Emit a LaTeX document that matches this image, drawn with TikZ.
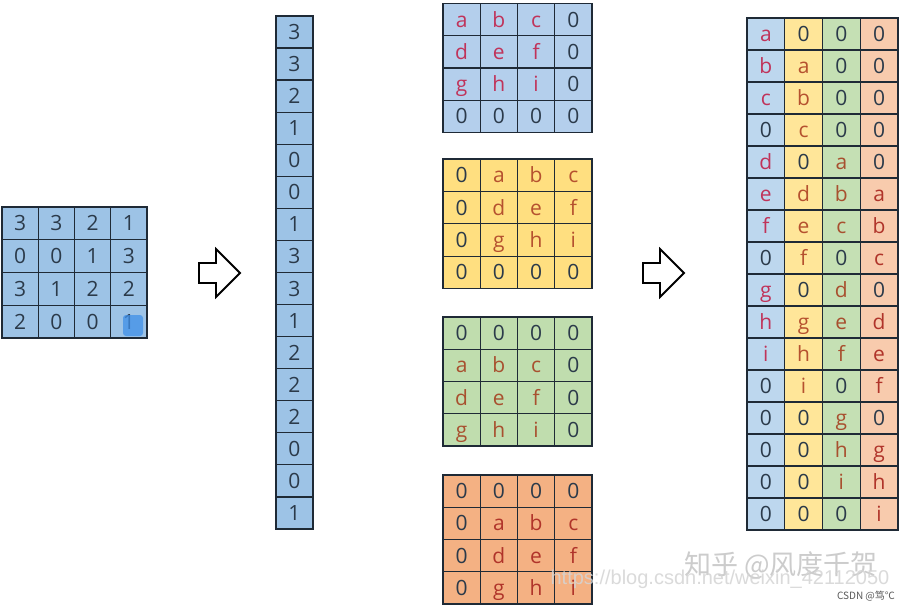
\documentclass[tikz,border=0pt]{standalone}
\usepackage{fontspec}
\setmainfont{Open Sans}
\newfontfamily\cjkfont{Noto Sans CJK SC}
\newfontfamily\urlfont{Liberation Sans}
\definecolor{gridc}{HTML}{1F2A36}
\definecolor{numc}{HTML}{2B3A4A}
\definecolor{leftblue}{HTML}{9DC3E6}
\definecolor{mblue}{HTML}{B4CFEC}
\definecolor{myellow}{HTML}{FFDF80}
\definecolor{mgreen}{HTML}{C0DDAE}
\definecolor{morange}{HTML}{F4B183}
\definecolor{rblue}{HTML}{BDD7EE}
\definecolor{ryellow}{HTML}{FFE699}
\definecolor{rgreen}{HTML}{C5E0B4}
\definecolor{rorange}{HTML}{F8CBAD}
\definecolor{lblue}{HTML}{C0335A}
\definecolor{lyellow}{HTML}{B5512F}
\definecolor{lgreen}{HTML}{A8502F}
\definecolor{lorange}{HTML}{B0342A}
\definecolor{hilite}{HTML}{3F8FE8}
\tikzset{
  cell/.style={draw=gridc, line width=1.3pt, inner sep=0pt, text height=15pt, text depth=0pt,
    font=\fontsize{21}{21}\selectfont, anchor=center},
  blockarrow/.style={draw=black, line width=1.8pt, fill=white, line join=miter},
  wmark/.style={inner sep=0pt, anchor=center},
}
\newcommand\mygrid[9]{%
  \foreach \t [count=\i from 0] in {#9} {%
    \pgfmathtruncatemacro\mycol{mod(\i,#6)}%
    \pgfmathtruncatemacro\myrow{floor(\i/#6)}%
    \node[cell, fill=#7, minimum width=#4pt, minimum height=#5pt] (#1-\myrow-\mycol)
      at ({#2+(\mycol+0.5)*#4},{#3+(\myrow+0.5)*#5}) {\ifcat\t a\color{#8}\else\color{numc}\fi\t};
  }}
\begin{document}
\begin{tikzpicture}[x=1pt,y=-1pt]
\useasboundingbox (0,0) rectangle (910,610);
\fill[white] (0,0) rectangle (910,610);
% input matrix
\mygrid{L}{2}{207}{36.25}{32.75}{4}{leftblue}{lblue}{3,3,2,1,0,0,1,3,3,1,2,2,2,0,0,1}
\fill[hilite, fill opacity=0.75, rounded corners=3pt] (123,315) rectangle (143,336);
% column vector
\mygrid{V}{276}{16}{37}{32.06}{1}{leftblue}{lblue}{3,3,2,1,0,0,1,3,3,1,2,2,2,0,0,1}
% four padded kernels
\mygrid{A}{443}{3.5}{37.25}{32.25}{4}{mblue}{lblue}{a,b,c,0,d,e,f,0,g,h,i,0,0,0,0,0}
\mygrid{B}{443}{159}{37.25}{32.4}{4}{myellow}{lyellow}{0,a,b,c,0,d,e,f,0,g,h,i,0,0,0,0}
\mygrid{C}{443}{317}{37.25}{32.25}{4}{mgreen}{lgreen}{0,0,0,0,a,b,c,0,d,e,f,0,g,h,i,0}
\mygrid{D}{443}{475}{37.25}{32.25}{4}{morange}{lorange}{0,0,0,0,0,a,b,c,0,d,e,f,0,g,h,i}
% result matrix
\mygrid{R1}{747}{18}{37.75}{32}{1}{rblue}{lblue}{a,b,c,0,d,e,f,0,g,h,i,0,0,0,0,0}
\mygrid{R2}{784.75}{18}{37.75}{32}{1}{ryellow}{lyellow}{0,a,b,c,0,d,e,f,0,g,h,i,0,0,0,0}
\mygrid{R3}{822.5}{18}{37.75}{32}{1}{rgreen}{lgreen}{0,0,0,0,a,b,c,0,d,e,f,0,g,h,i,0}
\mygrid{R4}{860.25}{18}{37.75}{32}{1}{rorange}{lorange}{0,0,0,0,0,a,b,c,0,d,e,f,0,g,h,i}
% block arrows
\draw[blockarrow] (199,263) -- (216,263) -- (216,249) -- (240,273) -- (216,297) -- (216,283) -- (199,283) -- cycle;
\draw[blockarrow] (643,263) -- (660,263) -- (660,249) -- (684,273) -- (660,297) -- (660,283) -- (643,283) -- cycle;
% watermarks
\node[wmark, text=black!20] (wm1) at (781,565) {\cjkfont\fontsize{27}{27}\selectfont 知乎 @风度千贺};
\node[wmark, text=black!17, text opacity=0.85] (wm2) at (720,579) {\urlfont\fontsize{20}{20}\selectfont https://blog.csdn.net/weixin\_42112050};
\node[wmark, text=black!65] (wm3) at (866,596) {\cjkfont\fontsize{10}{10}\selectfont CSDN @笃℃};
\end{tikzpicture}
\end{document}
